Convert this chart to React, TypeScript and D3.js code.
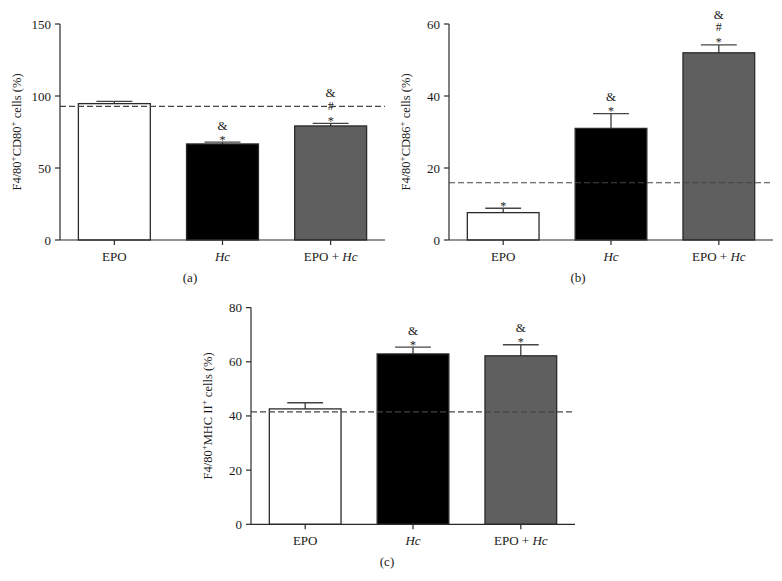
import React from "react";
import * as d3 from "d3";

const categories = ["EPO", "Hc", "EPO + Hc"];

const cd80Means = [94.7, 66.7, 79.2];
const cd80Errors = [1.6, 1.3, 1.8];
const cd80Baseline = 92.8;
const cd80Ticks = [0, 50, 100, 150];
const cd80Marks = [[], ["*", "&"], ["*", "#", "&"]];
const cd80Label = ["F4/80", "CD80", " cells (%)"];

const cd86Means = [7.6, 31.0, 52.0];
const cd86Errors = [1.2, 4.1, 2.2];
const cd86Baseline = 15.9;
const cd86Ticks = [0, 20, 40, 60];
const cd86Marks = [["*"], ["*", "&"], ["*", "#", "&"]];
const cd86Label = ["F4/80", "CD86", " cells (%)"];

const mhcMeans = [42.6, 62.9, 62.2];
const mhcErrors = [2.3, 2.5, 4.1];
const mhcBaseline = 41.5;
const mhcTicks = [0, 20, 40, 60, 80];
const mhcMarks = [[], ["*", "&"], ["*", "&"]];
const mhcLabel = ["F4/80", "MHC II", " cells (%)"];

const barFills = ["#ffffff", "#000000", "#5f5f5f"];
const FONT = "Liberation Serif, serif";

type PanelProps = {
  x0: number; x1: number; y0: number; y1: number;
  means: number[]; errors: number[]; baseline: number; ticks: number[];
  marks: string[][]; label: string[]; caption: string; captionX: number; labelX: number;
  yMax: number;
};

function CatLabel({ name }: { name: string }) {
  if (name === "Hc") return <tspan fontStyle="italic">Hc</tspan>;
  if (name === "EPO + Hc")
    return (
      <>
        <tspan>EPO + </tspan>
        <tspan fontStyle="italic">Hc</tspan>
      </>
    );
  return <tspan>{name}</tspan>;
}

function Panel(p: PanelProps) {
  const x = d3.scaleBand<string>().domain(categories).range([p.x0, p.x1]).paddingInner(0.335).paddingOuter(0.17);
  const y = d3.scaleLinear().domain([0, p.yMax]).range([p.y0, p.y1]);
  const bw = x.bandwidth();
  const stroke = "#2a2a2a";
  return (
    <g style={{ fontFamily: FONT }} fill="#1a1a1a">
      {categories.map((c, i) => {
        const bx = x(c)!;
        const top = y(p.means[i]);
        const errTop = y(p.means[i] + p.errors[i]);
        const cx = bx + bw / 2;
        const marks = p.marks[i];
        const hasHash = marks.includes("#");
        return (
          <g key={c}>
            <line x1={cx} x2={cx} y1={top} y2={errTop} stroke={stroke} strokeWidth={1.2} />
            <line x1={cx - bw / 4} x2={cx + bw / 4} y1={errTop} y2={errTop} stroke="#444" strokeWidth={1.4} />
            <rect x={bx} y={top} width={bw} height={p.y0 - top} fill={barFills[i]} stroke={stroke} strokeWidth={1.3} />
            {marks.map((m, k) => {
              let baseY = errTop + 1.5;
              if (m === "#") baseY = errTop - 13.5;
              if (m === "&") baseY = hasHash ? errTop - 26 : errTop - 12.5;
              return (
                <text key={k} x={cx} y={baseY} textAnchor="middle" fontSize={m === "&" ? 13 : 12} fill="#1a1a1a">
                  {m}
                </text>
              );
            })}
          </g>
        );
      })}
      <line x1={p.x0} x2={p.x1} y1={y(p.baseline)} y2={y(p.baseline)} stroke="#444" strokeWidth={1.2} strokeDasharray="6,3" />
      <line x1={p.x0} x2={p.x0} y1={p.y0} y2={p.y1} stroke={stroke} strokeWidth={1.2} />
      {p.ticks.map((t) => (
        <g key={t}>
          <line x1={p.x0 - 5} x2={p.x0} y1={y(t)} y2={y(t)} stroke={stroke} strokeWidth={1.2} />
          <text x={p.x0 - 9} y={y(t) + 4.5} textAnchor="end" fontSize={13}>
            {t}
          </text>
        </g>
      ))}
      <line x1={p.x0} x2={p.x1} y1={p.y0} y2={p.y0} stroke={stroke} strokeWidth={1.2} />
      {categories.map((c) => {
        const cx = x(c)! + bw / 2;
        return (
          <g key={c}>
            <line x1={cx} x2={cx} y1={p.y0} y2={p.y0 + 5} stroke={stroke} strokeWidth={1.2} />
            <text x={cx} y={p.y0 + 21} textAnchor="middle" fontSize={13}>
              <CatLabel name={c} />
            </text>
          </g>
        );
      })}
      <text
        transform={`translate(${p.labelX},${(p.y0 + p.y1) / 2}) rotate(-90)`}
        textAnchor="middle"
        fontSize={12.5}
      >
        <tspan>{p.label[0]}</tspan>
        <tspan dy={-5} fontSize={9}>+</tspan>
        <tspan dy={5}>{p.label[1]}</tspan>
        <tspan dy={-5} fontSize={9}>+</tspan>
        <tspan dy={5}>{p.label[2]}</tspan>
      </text>
      <text x={p.captionX} y={p.y0 + 42} textAnchor="middle" fontSize={13}>
        {p.caption}
      </text>
    </g>
  );
}

export default function App() {
  return (
    <svg width={782} height={581} style={{ position: "absolute", left: 0, top: 0, background: "#fff" }}>
      <rect width={782} height={581} fill="#fff" />
      <Panel x0={60} x1={385} y0={240} y1={24} yMax={150} means={cd80Means} errors={cd80Errors}
        baseline={cd80Baseline} ticks={cd80Ticks} marks={cd80Marks}
        label={cd80Label} caption="(a)" captionX={190} labelX={21} />
      <Panel x0={449} x1={773} y0={240} y1={24} yMax={60} means={cd86Means} errors={cd86Errors}
        baseline={cd86Baseline} ticks={cd86Ticks} marks={cd86Marks}
        label={cd86Label} caption="(b)" captionX={578} labelX={410} />
      <Panel x0={251} x1={575} y0={524.3} y1={307.6} yMax={80} means={mhcMeans} errors={mhcErrors}
        baseline={mhcBaseline} ticks={mhcTicks} marks={mhcMarks}
        label={mhcLabel} caption="(c)" captionX={387} labelX={212} />
    </svg>
  );
}
